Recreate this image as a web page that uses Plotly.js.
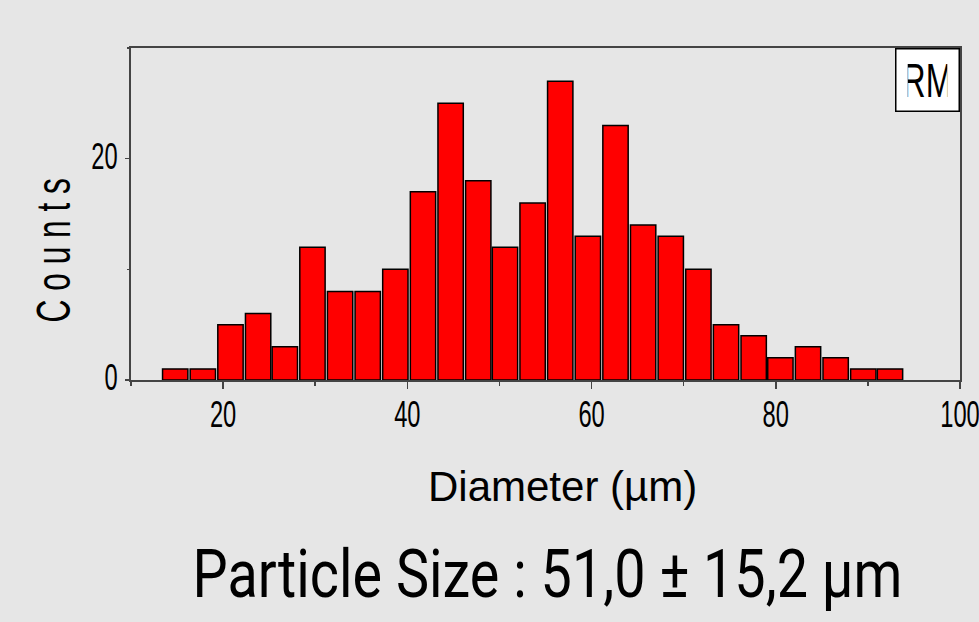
<!DOCTYPE html>
<html>
<head>
<meta charset="utf-8">
<script src="https://cdn.plot.ly/plotly-3.0.1.min.js"></script>
<style>html,body{margin:0;padding:0;background:#e6e6e6;}</style>
</head>
<body>
<div id="chart" style="width:979px;height:622px;"></div>
<script>
// Bin centers (Diameter, µm) and counts
const diameters = [14.8, 17.8, 20.8, 23.8, 26.7, 29.7, 32.7, 35.7, 38.7, 41.7, 44.7, 47.7, 50.6, 53.6,
                   56.6, 59.6, 62.6, 65.6, 68.6, 71.6, 74.6, 77.6, 80.5, 83.5, 86.5, 89.5, 92.4];
const counts = [1, 1, 5, 6, 3, 12, 8, 8, 10, 17, 25, 18, 12, 16,
                27, 13, 23, 14, 13, 10, 5, 4, 2, 3, 2, 1, 1];
const xTickVals = [20, 40, 60, 80, 100];
const xTickText = ['20', '40', '60', '80', '100'];
const yTickVals = [0, 20];
const yTickText = ['0', '20'];

const sans = 'Liberation Sans, Arial, sans-serif';
const axisColor = '#444444';

const trace = {
  type: 'bar',
  x: diameters,
  y: counts,
  width: 2.75,
  marker: { color: '#ff0000', line: { color: '#000000', width: 1.5 } },
  hoverinfo: 'x+y'
};

const layout = {
  width: 979,
  height: 622,
  margin: { l: 130.5, r: 19, t: 48, b: 242, pad: 0 },
  paper_bgcolor: '#e6e6e6',
  plot_bgcolor: '#e6e6e6',
  showlegend: false,
  xaxis: {
    range: [10, 100],
    tickmode: 'array',
    tickvals: xTickVals,
    ticktext: xTickText,
    ticks: 'outside',
    ticklen: 7,
    tickwidth: 1.5,
    tickcolor: axisColor,
    ticklabeloverflow: 'allow',
    minor: { dtick: 10, tick0: 0, ticks: 'outside', ticklen: 4, tickwidth: 1.5, tickcolor: axisColor, showgrid: false },
    showline: true,
    linecolor: axisColor,
    linewidth: 2,
    mirror: true,
    showgrid: false,
    zeroline: false,
    tickfont: { family: sans, size: 37, color: '#000000' },
    fixedrange: true
  },
  yaxis: {
    range: [0, 30],
    tickmode: 'array',
    tickvals: yTickVals,
    ticktext: yTickText,
    ticks: 'outside',
    ticklen: 4,
    tickwidth: 1.5,
    tickcolor: axisColor,
    ticklabeloverflow: 'allow',
    minor: { dtick: 10, tick0: 0, ticks: 'outside', ticklen: 2, tickwidth: 1.5, tickcolor: axisColor, showgrid: false },
    showline: true,
    linecolor: axisColor,
    linewidth: 2,
    mirror: true,
    showgrid: false,
    zeroline: false,
    tickfont: { family: sans, size: 37, color: '#000000' },
    fixedrange: true
  },
  annotations: [
    {
      text: 'RM',
      xref: 'paper', yref: 'paper',
      x: 1, y: 1, xanchor: 'right', yanchor: 'top',
      showarrow: false,
      bgcolor: '#ffffff',
      bordercolor: '#000000',
      borderwidth: 1.5,
      width: 60, height: 59,
      font: { family: sans, size: 49, color: '#000000' }
    },
    {
      text: 'C o u n t s',
      xref: 'paper', yref: 'paper',
      x: -0.094, y: 0.39, xanchor: 'center', yanchor: 'middle',
      textangle: -90,
      showarrow: false,
      font: { family: sans, size: 48, color: '#000000' }
    },
    {
      text: 'Diameter (µm)',
      xref: 'paper', yref: 'paper',
      x: 0.521, y: -0.32, xanchor: 'center', yanchor: 'middle',
      showarrow: false,
      font: { family: sans, size: 42, color: '#000000' }
    },
    {
      text: 'Particle Size : 51,0 ± 15,2 µm',
      xref: 'paper', yref: 'paper',
      x: 0.503, y: -0.585, xanchor: 'center', yanchor: 'middle',
      showarrow: false,
      font: { family: 'Roboto, Liberation Sans, sans-serif', size: 67, weight: 400, color: '#000000' }
    }
  ]
};

// Horizontally condense a text element about an anchor (keeps it real text)
function condense(el, scale, anchor, dy) {
  const bb = el.getBBox();
  let ax = bb.x + bb.width / 2;
  if (anchor === 'end') ax = bb.x + bb.width;
  const prev = el.getAttribute('transform') || '';
  el.setAttribute('transform', prev + ' translate(' + ax + ',' + (dy || 0) + ') scale(' + scale + ',1) translate(' + (-ax) + ',0)');
}

Plotly.newPlot('chart', [trace], layout, { displayModeBar: false, staticPlot: true }).then(function (gd) {
  gd.querySelectorAll('.xtick text').forEach(function (t) { condense(t, 0.64, 'middle', -6); });
  gd.querySelectorAll('.ytick text').forEach(function (t) { condense(t, 0.64, 'end', -3); });
  gd.querySelectorAll('.annotation-text').forEach(function (t) {
    const txt = t.textContent;
    if (txt === 'RM') condense(t, 0.66, 'middle');
    else if (txt.indexOf('C o u') === 0) condense(t, 0.66, 'middle');
    else if (txt.indexOf('Particle') === 0) {
      const w = t.getBBox().width;
      condense(t, 710 / w, 'middle');
    }
  });
});
</script>
</body>
</html>
